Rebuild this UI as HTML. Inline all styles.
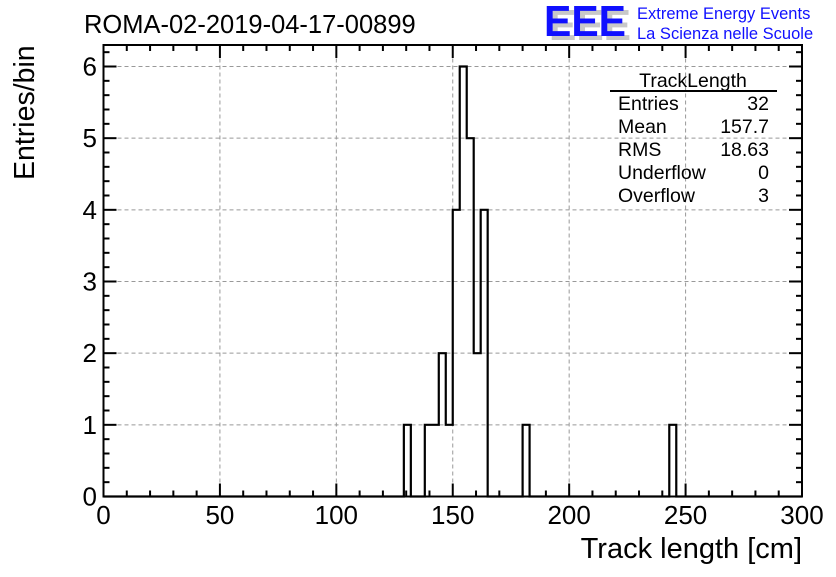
<!DOCTYPE html>
<html><head><meta charset="utf-8"><style>
body{margin:0;background:#fff;}
svg text{font-family:"Liberation Sans",sans-serif;}
</style></head><body>
<svg id="chart" width="836" height="572" xmlns="http://www.w3.org/2000/svg">
<rect width="836" height="572" fill="#fff"/>
<g id="grid"></g>
<g id="hist"></g>
<g id="axes"></g>
<text x="84" y="33" font-size="25.5">ROMA-02-2019-04-17-00899</text>
<g>
<text x="549" y="40" font-size="44" font-weight="bold" fill="#c8c8c8" textLength="82" lengthAdjust="spacingAndGlyphs">EEE</text>
<text x="544" y="36" font-size="44" font-weight="bold" fill="#1010ff" textLength="82" lengthAdjust="spacingAndGlyphs">EEE</text>
<text x="637" y="19" font-size="16.5" fill="#1010ff">Extreme Energy Events</text>
<text x="637" y="39" font-size="16.5" fill="#1010ff">La Scienza nelle Scuole</text>
</g>
<g font-size="19.5">
<text x="693" y="87" text-anchor="middle">TrackLength</text>
<line x1="610" y1="91" x2="777" y2="91" stroke="#000" stroke-width="2"/>
<text x="618" y="110">Entries</text><text x="769" y="110" text-anchor="end">32</text>
<text x="618" y="133">Mean</text><text x="769" y="133" text-anchor="end">157.7</text>
<text x="618" y="156">RMS</text><text x="769" y="156" text-anchor="end">18.63</text>
<text x="618" y="179">Underflow</text><text x="769" y="179" text-anchor="end">0</text>
<text x="618" y="202">Overflow</text><text x="769" y="202" text-anchor="end">3</text>
</g>
<text x="802" y="558" font-size="29" text-anchor="end">Track length [cm]</text>
<text transform="translate(34,180) rotate(-90)" font-size="28.5">Entries/bin</text>
</svg>
<script>
const binStarts = [129,138,141,144,147,150,153,156,159,162,180,243];
const binCounts = [1,1,1,2,1,4,6,5,2,4,1,1];
const binWidth = 3;
const xTicks = [0,50,100,150,200,250,300];
const yTicks = [0,1,2,3,4,5,6];
const X0=103.5,X1=802,Y0=496.5,Y1=45;
const xMin=0,xMax=300,yMin=0,yMax=6.3;
const sx=v=>X0+(v-xMin)/(xMax-xMin)*(X1-X0);
const sy=v=>Y0-(v-yMin)/(yMax-yMin)*(Y0-Y1);
const NS="http://www.w3.org/2000/svg";
function mk(tag,attrs,parent){const e=document.createElementNS(NS,tag);for(const k in attrs)e.setAttribute(k,attrs[k]);parent.appendChild(e);return e;}
const grid=document.getElementById('grid'),hist=document.getElementById('hist'),axes=document.getElementById('axes');
xTicks.forEach(t=>{if(t>xMin&&t<xMax){const l=mk('line',{x1:sx(t),x2:sx(t),y1:Y0,y2:Y1,stroke:'#999','stroke-dasharray':'4,3'},grid);

}});
yTicks.forEach(t=>{if(t>yMin){const l=mk('line',{x1:X0,x2:X1,y1:sy(t),y2:sy(t),stroke:'#999','stroke-dasharray':'4,3'},grid);

}});
const nb=Math.round((xMax-xMin)/binWidth);
const counts=new Array(nb).fill(0);
binStarts.forEach((s,i)=>{counts[Math.round((s-xMin)/binWidth)]=binCounts[i];});
let d='M'+sx(xMin)+','+sy(0);
for(let i=0;i<nb;i++){const a=xMin+i*binWidth;d+=' L'+sx(a)+','+sy(counts[i])+' L'+sx(a+binWidth)+','+sy(counts[i]);}
const p=mk('path',{d:d,fill:'none',stroke:'#000','stroke-width':2.2},hist);


const fr=mk('rect',{x:X0,y:Y1,width:X1-X0,height:Y0-Y1,fill:'none',stroke:'#000','stroke-width':2},axes);


for(let v=xMin;v<=xMax;v+=10){const maj=v%50===0;const L=maj?13:6;
mk('line',{x1:sx(v),x2:sx(v),y1:Y0,y2:Y0-L,stroke:'#000','stroke-width':2},axes);
mk('line',{x1:sx(v),x2:sx(v),y1:Y1,y2:Y1+L,stroke:'#000','stroke-width':2},axes);}
xTicks.forEach(t=>{const tx=mk('text',{x:sx(t),y:524,'font-size':26,'text-anchor':'middle'},axes);tx.textContent=t;

});
for(let v=0;v<=yMax+1e-9;v+=0.2){const maj=Math.abs(v-Math.round(v))<1e-6;const L=maj?13:6;
mk('line',{x1:X0,x2:X0+L,y1:sy(v),y2:sy(v),stroke:'#000','stroke-width':2},axes);
mk('line',{x1:X1,x2:X1-L,y1:sy(v),y2:sy(v),stroke:'#000','stroke-width':2},axes);}
yTicks.forEach(t=>{const tx=mk('text',{x:97,y:sy(t)+9,'font-size':26,'text-anchor':'end'},axes);tx.textContent=t;

});
</script>
</body></html>
